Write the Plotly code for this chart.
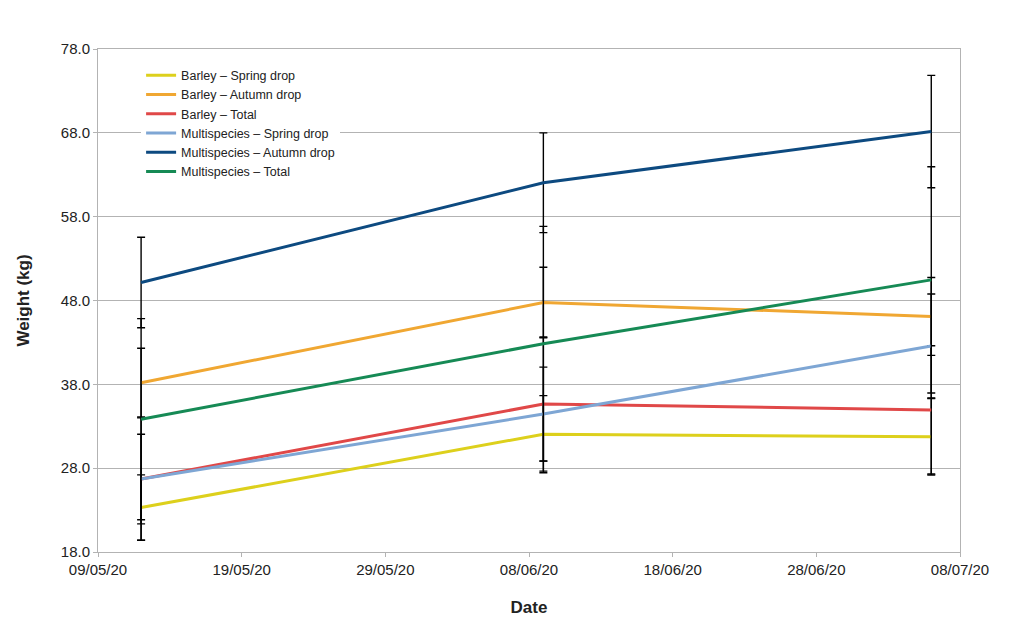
import plotly.graph_objects as go

# sampling dates
dates = ["2020-05-12", "2020-06-09", "2020-07-06"]

series_names = [
    "Barley – Spring drop",
    "Barley – Autumn drop",
    "Barley – Total",
    "Multispecies – Spring drop",
    "Multispecies – Autumn drop",
    "Multispecies – Total",
]

barley_spring = [23.3, 32.05, 31.75]
barley_autumn = [38.2, 47.76, 46.1]
barley_total = [26.7, 35.65, 34.95]
multi_spring = [26.7, 34.45, 42.57]
multi_autumn = [50.15, 62.05, 68.15]
multi_total = [33.84, 42.84, 50.46]

barley_spring_err = [3.9, 4.6, 4.56]
barley_autumn_err = [4.1, 4.2, 4.65]
barley_total_err = [5.35, 8.0, 7.65]
multi_spring_err = [7.3, 5.6, 6.2]
multi_autumn_err = [5.4, 5.95, 6.7]
multi_total_err = [12.0, 14.0, 13.5]

colors = ["#ddd01c", "#f0a732", "#e04848", "#7ea6d4", "#0d4a80", "#168a55"]

values = [barley_spring, barley_autumn, barley_total, multi_spring, multi_autumn, multi_total]
errors = [barley_spring_err, barley_autumn_err, barley_total_err,
          multi_spring_err, multi_autumn_err, multi_total_err]

FONT = "Liberation Sans, Arial, sans-serif"

fig = go.Figure()
for name, ys, errs, col in zip(series_names, values, errors, colors):
    fig.add_trace(go.Scatter(x=dates, y=ys, name=name, mode="lines",
                             line=dict(color=col, width=3),
                             error_y=dict(type="data", array=errs, visible=True,
                                          color="black", thickness=1.4, width=4)))

# page body has an 8px margin, so size the figure to fit inside the window
fig.update_layout(
    width=1022, height=618,
    plot_bgcolor="white", paper_bgcolor="white",
    margin=dict(l=90, r=70, t=41, b=74),
    font=dict(family=FONT, color="#222"),
    showlegend=True,
    legend=dict(x=0.05, y=0.977, xanchor="left", yanchor="top",
                bgcolor="white", font=dict(size=12.5, color="#222"),
                itemwidth=30, tracegroupgap=0),
    xaxis=dict(type="date", range=["2020-05-09", "2020-07-08"],
               tick0="2020-05-09", dtick=10 * 86400000, tickformat="%d/%m/%y",
               showgrid=False, showline=True, linecolor="#b3b3b3", mirror=True,
               ticks="outside", ticklen=4, tickcolor="#b3b3b3",
               tickfont=dict(size=15, color="#222"),
               title=dict(text="<b>Date</b>", font=dict(size=17, color="#222"), standoff=24)),
    yaxis=dict(range=[18, 78], dtick=10, tick0=18, tickformat=".1f",
               showgrid=True, gridcolor="#b3b3b3", zeroline=False,
               showline=True, linecolor="#b3b3b3", mirror=True,
               ticks="outside", ticklen=4, tickcolor="#b3b3b3",
               tickfont=dict(size=15, color="#222"),
               title=dict(text="<b>Weight (kg)</b>", font=dict(size=17, color="#222"), standoff=26)),
)

fig.write_html("out.html")
